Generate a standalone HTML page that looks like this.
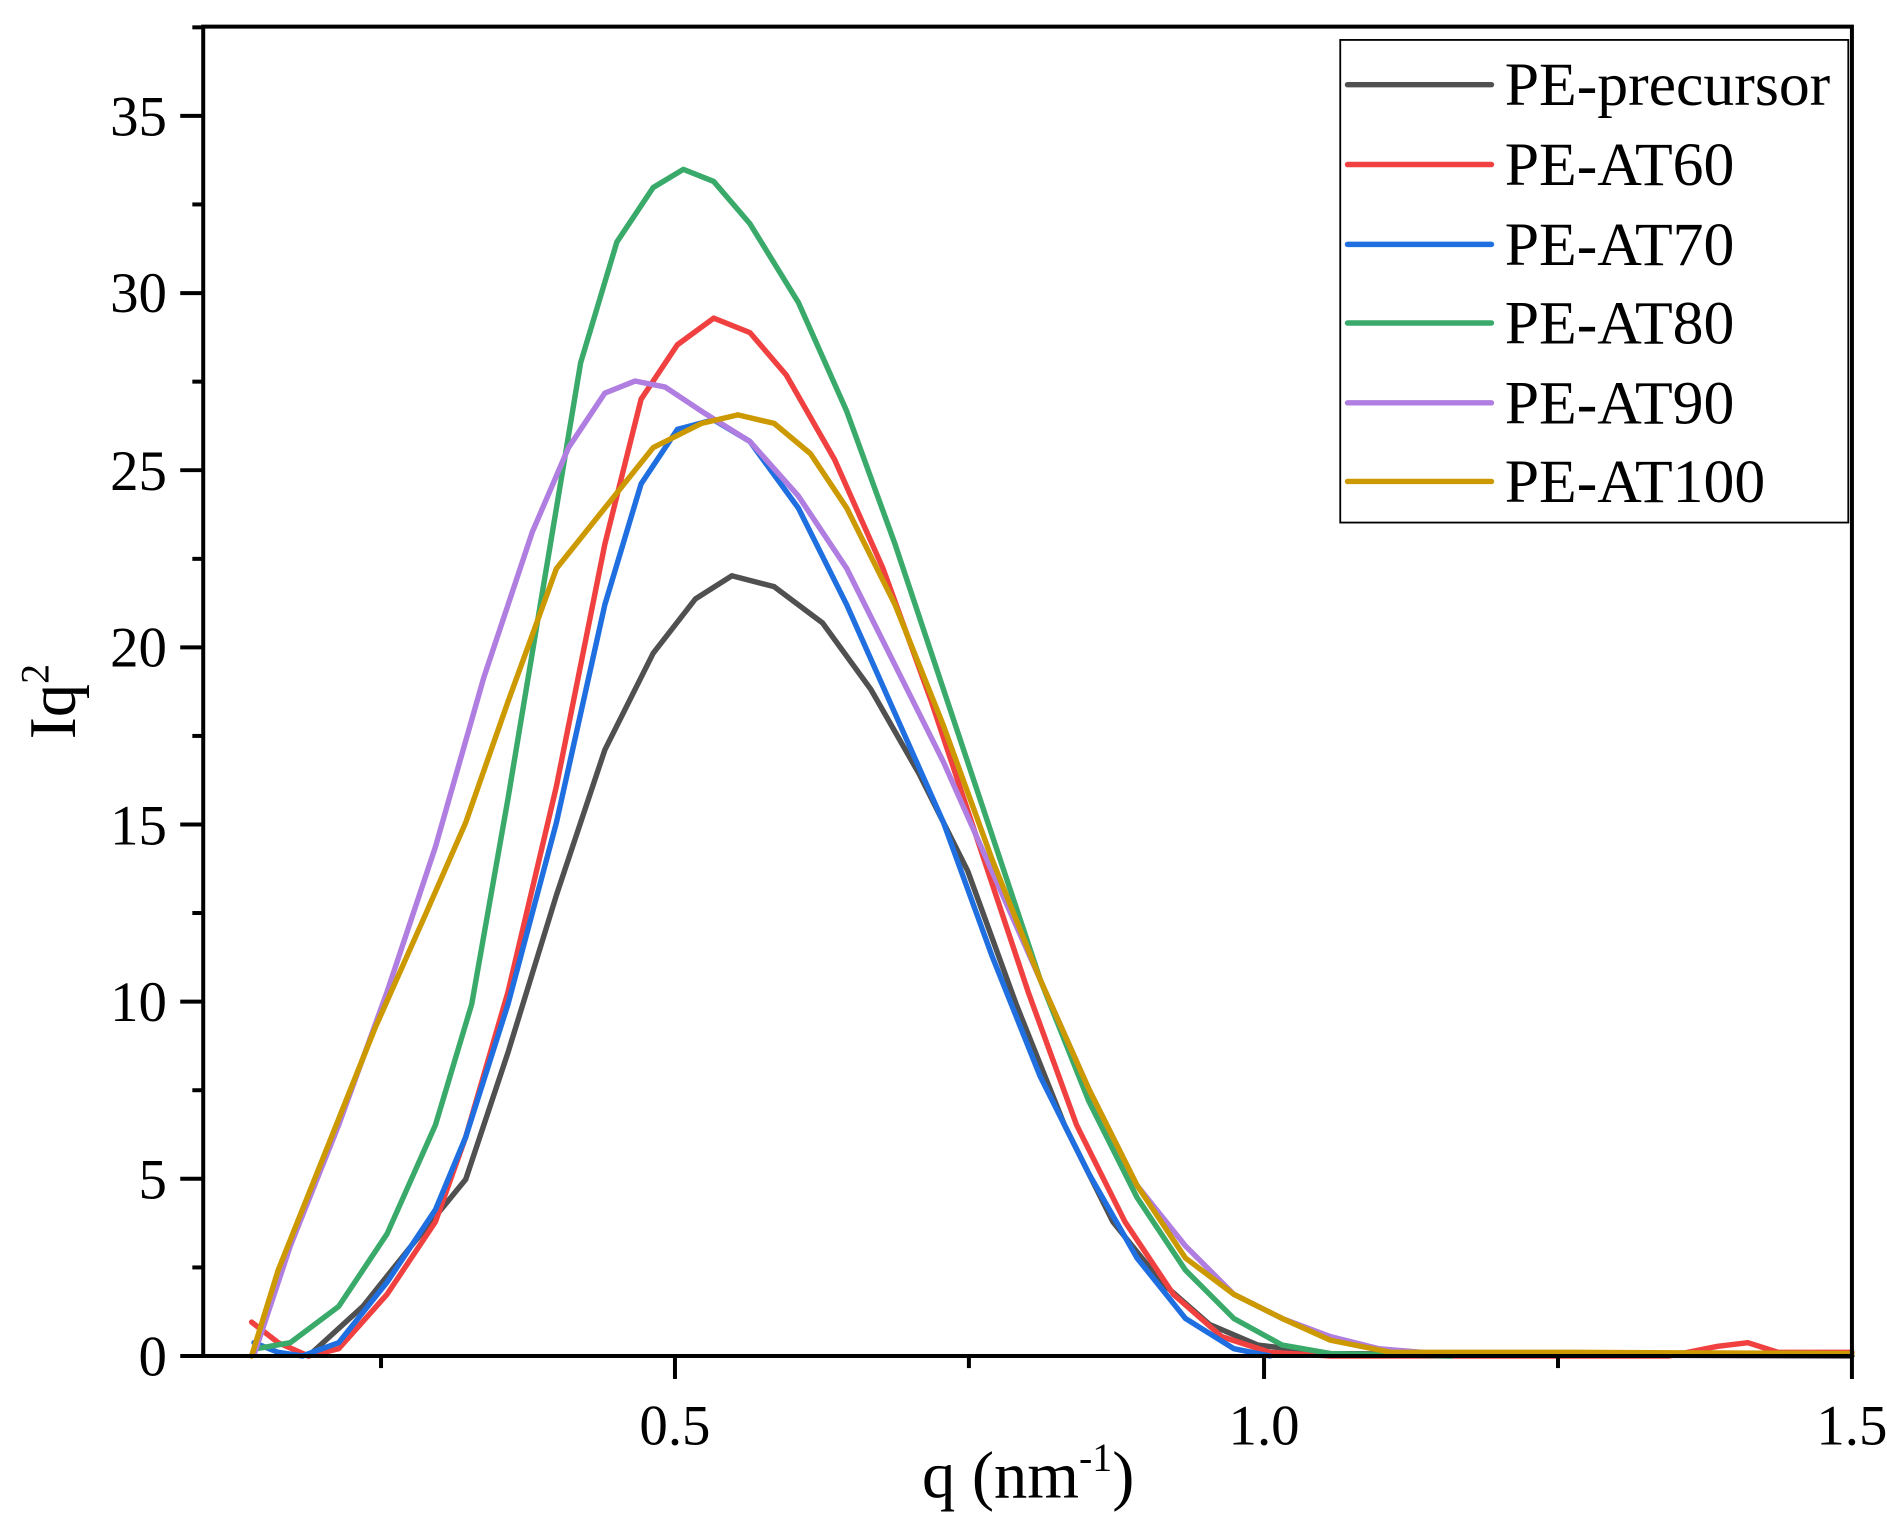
<!DOCTYPE html>
<html><head><meta charset="utf-8"><style>
html,body{margin:0;padding:0;background:#fff;}
svg{display:block;}
text{font-family:"Liberation Serif",serif;fill:#000;}
</style></head><body>
<svg width="1887" height="1513" viewBox="0 0 1560 1250.8" xmlns="http://www.w3.org/2000/svg">
<rect x="0" y="0" width="1560" height="1251" fill="#fff"/>
<g fill="none" stroke-width="4.5" stroke-linejoin="round" stroke-linecap="round">
<polyline stroke="#505050" points="255,1121 300,1080 340,1030 385,975 420,870 460,740 500,620 540,540 575,495 605,476 640,485 680,515 720,570 760,640 800,720 840,830 880,930 920,1010 960,1060 1000,1095 1040,1112 1100,1119 1250,1120 1531,1121"/>
<polyline stroke="#f04040" points="208,1093 230,1110 255,1121 280,1115 320,1070 360,1010 385,940 420,820 460,650 500,450 530,330 560,285 590,263 620,275 650,310 690,380 730,470 770,580 810,700 850,820 890,930 930,1010 970,1070 1010,1105 1050,1118 1100,1121 1380,1121 1420,1113 1445,1110 1470,1118 1531,1118"/>
<polyline stroke="#1f6fe0" points="210,1110 230,1118 250,1121 280,1110 320,1060 360,1000 385,940 420,830 460,680 500,500 530,400 560,355 590,347 620,365 660,420 700,500 740,590 780,680 820,790 860,890 900,970 940,1040 980,1090 1020,1115 1050,1121"/>
<polyline stroke="#3aaa6a" points="212,1115 240,1110 280,1080 320,1020 360,930 390,830 420,660 450,480 480,300 510,200 540,155 565,140 590,150 620,185 660,250 700,340 740,450 780,570 820,690 860,810 900,910 940,990 980,1050 1020,1090 1060,1112 1100,1119 1200,1121"/>
<polyline stroke="#b07de0" points="210,1120 240,1030 280,930 320,820 360,700 400,560 440,440 470,370 500,325 525,315 550,320 580,340 620,365 660,410 700,470 740,550 780,630 820,720 860,810 900,900 940,980 980,1030 1020,1070 1060,1090 1100,1105 1140,1115 1200,1120"/>
<polyline stroke="#cc9900" points="208,1121 230,1050 270,950 310,850 350,760 385,680 420,580 460,470 500,420 540,370 580,350 610,343 640,350 670,375 700,420 740,500 780,600 820,710 860,810 900,900 940,980 980,1040 1020,1070 1060,1090 1100,1108 1150,1118 1300,1118 1531,1119"/>
</g>
<rect x="168" y="22" width="1363" height="1099" fill="none" stroke="#000" stroke-width="3.3"/>
<g stroke="#000" stroke-width="3.3">
<line x1="149" y1="1121" x2="168" y2="1121"/><line x1="149" y1="974.5" x2="168" y2="974.5"/><line x1="149" y1="828" x2="168" y2="828"/><line x1="149" y1="681.6" x2="168" y2="681.6"/><line x1="149" y1="535.2" x2="168" y2="535.2"/><line x1="149" y1="388.7" x2="168" y2="388.7"/><line x1="149" y1="242.3" x2="168" y2="242.3"/><line x1="149" y1="95.8" x2="168" y2="95.8"/>
<line x1="159" y1="1047.8" x2="168" y2="1047.8"/><line x1="159" y1="901.3" x2="168" y2="901.3"/><line x1="159" y1="754.8" x2="168" y2="754.8"/><line x1="159" y1="608.4" x2="168" y2="608.4"/><line x1="159" y1="462" x2="168" y2="462"/><line x1="159" y1="315.5" x2="168" y2="315.5"/><line x1="159" y1="169" x2="168" y2="169"/><line x1="159" y1="22.6" x2="168" y2="22.6"/>
<line x1="558" y1="1121" x2="558" y2="1140"/><line x1="1045" y1="1121" x2="1045" y2="1140"/><line x1="1531" y1="1121" x2="1531" y2="1140"/>
<line x1="315" y1="1121" x2="315" y2="1131"/><line x1="801" y1="1121" x2="801" y2="1131"/><line x1="1288" y1="1121" x2="1288" y2="1131"/>
</g>
<g font-size="47" text-anchor="end">
<text x="138" y="1137">0</text><text x="138" y="991">5</text><text x="138" y="844">10</text><text x="138" y="698">15</text><text x="138" y="551">20</text><text x="138" y="405">25</text><text x="138" y="258">30</text><text x="138" y="112">35</text>
</g>
<g font-size="47" text-anchor="middle">
<text x="558" y="1194">0.5</text><text x="1045" y="1194">1.0</text><text x="1531" y="1194">1.5</text>
</g>
<text x="850" y="1238" font-size="55" text-anchor="middle">q (nm<tspan font-size="33" dy="-22">-1</tspan><tspan dy="22">)</tspan></text>
<text transform="translate(62,580) rotate(-90)" font-size="55" text-anchor="middle">Iq<tspan font-size="33" dy="-22">2</tspan></text>
<rect x="1108" y="33" width="420" height="399" fill="#fff" stroke="#000" stroke-width="1.5"/>
<g stroke-width="4.5" stroke-linecap="round">
<line x1="1114" y1="70" x2="1233" y2="70" stroke="#505050"/>
<line x1="1114" y1="136" x2="1233" y2="136" stroke="#f04040"/>
<line x1="1114" y1="202" x2="1233" y2="202" stroke="#1f6fe0"/>
<line x1="1114" y1="267" x2="1233" y2="267" stroke="#3aaa6a"/>
<line x1="1114" y1="333" x2="1233" y2="333" stroke="#b07de0"/>
<line x1="1114" y1="398" x2="1233" y2="398" stroke="#cc9900"/>
</g>
<g font-size="51">
<text x="1244" y="87">PE-precursor</text>
<text x="1244" y="153">PE-AT60</text>
<text x="1244" y="219">PE-AT70</text>
<text x="1244" y="284">PE-AT80</text>
<text x="1244" y="350">PE-AT90</text>
<text x="1244" y="415">PE-AT100</text>
</g>
</svg>
</body></html>
